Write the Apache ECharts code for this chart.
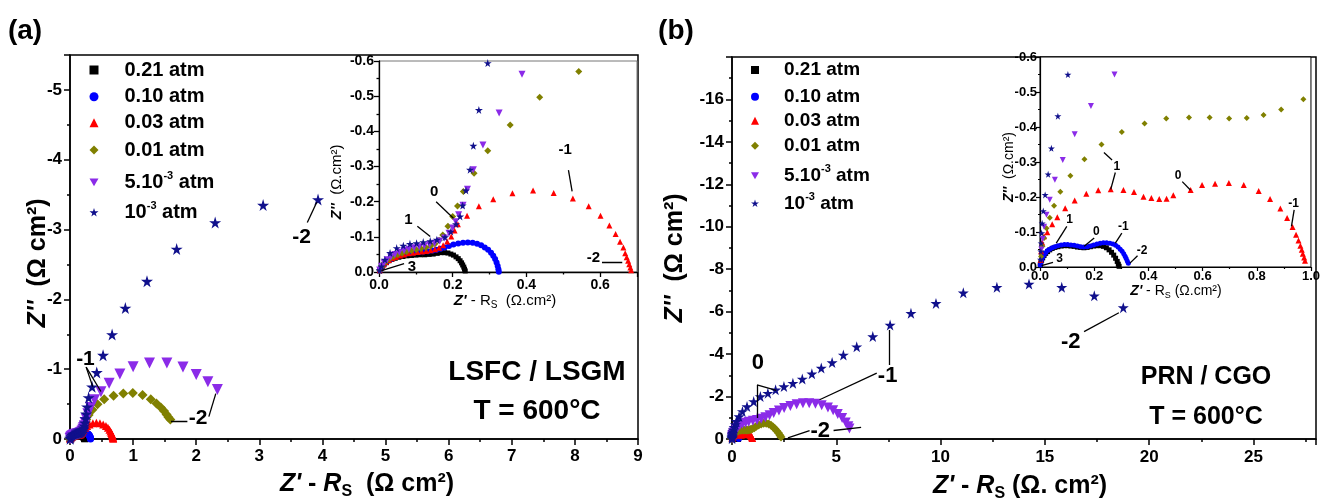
<!DOCTYPE html>
<html><head><meta charset="utf-8">
<script src="https://cdn.jsdelivr.net/npm/echarts@6/dist/echarts.min.js"></script>
<style>html,body{margin:0;padding:0;background:#fff}#c{width:1323px;height:501px}</style>
</head><body><div id="c"></div>
<script>
const FF = '"Liberation Sans", Arial, Helvetica, sans-serif';

// ---------- legend / series categories ----------
const seriesNames  = ['0.21 atm', '0.10 atm', '0.03 atm', '0.01 atm', '5.10^-3 atm', '10^-3 atm'];
const legendLabels = ['0.21 atm', '0.10 atm', '0.03 atm', '0.01 atm', '5.10{sup|-3} atm', '10{sup|-3} atm'];
const seriesColors = ['#000000', '#0000ff', '#ff0000', '#808000', '#8b2be8', '#10108c'];

// ---------- data: [Z' - Rs, -Z''] (Ω cm²) ; y shown on axis with a minus sign ----------
// (a) LSFC / LSGM
const a021 = [[0.002,0.004],[0.005,0.010],[0.009,0.016],[0.014,0.022],[0.020,0.027],[0.027,0.032],[0.035,0.036],[0.044,0.039],[0.054,0.042],[0.065,0.044],[0.076,0.046],[0.088,0.047],[0.100,0.048],[0.112,0.049],[0.124,0.049],[0.136,0.050],[0.147,0.051],[0.158,0.053],[0.168,0.055],[0.178,0.055],[0.187,0.054],[0.195,0.051],[0.202,0.048],[0.209,0.043],[0.215,0.038],[0.220,0.032],[0.224,0.026],[0.227,0.020],[0.230,0.014],[0.232,0.008],[0.234,0.003]];
const a010 = [[0.002,0.005],[0.006,0.012],[0.011,0.019],[0.017,0.026],[0.024,0.032],[0.032,0.037],[0.041,0.042],[0.051,0.046],[0.062,0.049],[0.073,0.052],[0.085,0.054],[0.097,0.056],[0.109,0.057],[0.121,0.058],[0.133,0.059],[0.145,0.061],[0.156,0.063],[0.167,0.066],[0.178,0.070],[0.190,0.074],[0.202,0.078],[0.215,0.081],[0.228,0.083],[0.241,0.084],[0.254,0.083],[0.266,0.080],[0.277,0.076],[0.287,0.070],[0.296,0.063],[0.304,0.055],[0.310,0.046],[0.315,0.037],[0.319,0.027],[0.322,0.017],[0.324,0.008],[0.325,0.001]];
const a003 = [[0.002,0.005],[0.006,0.013],[0.012,0.021],[0.019,0.028],[0.027,0.034],[0.036,0.039],[0.046,0.043],[0.057,0.047],[0.068,0.050],[0.080,0.053],[0.092,0.055],[0.104,0.057],[0.116,0.058],[0.128,0.060],[0.140,0.062],[0.152,0.065],[0.163,0.069],[0.174,0.076],[0.185,0.087],[0.196,0.101],[0.205,0.118],[0.214,0.136],[0.239,0.160],[0.271,0.187],[0.310,0.207],[0.362,0.224],[0.418,0.232],[0.474,0.225],[0.526,0.209],[0.569,0.187],[0.601,0.160],[0.625,0.132],[0.642,0.108],[0.654,0.086],[0.663,0.070],[0.668,0.053],[0.672,0.042],[0.676,0.032],[0.679,0.022],[0.682,0.013],[0.684,0.005]];
const a001 = [[0.002,0.006],[0.007,0.015],[0.013,0.024],[0.021,0.032],[0.030,0.039],[0.040,0.045],[0.051,0.050],[0.063,0.054],[0.075,0.058],[0.088,0.061],[0.101,0.064],[0.114,0.067],[0.127,0.070],[0.140,0.074],[0.152,0.080],[0.163,0.090],[0.173,0.105],[0.187,0.130],[0.200,0.158],[0.213,0.188],[0.229,0.229],[0.258,0.281],[0.295,0.345],[0.356,0.418],[0.436,0.497],[0.542,0.570],[0.69,0.62],[0.845,0.65],[0.995,0.66],[1.15,0.63],[1.28,0.57],[1.37,0.51],[1.44,0.45],[1.49,0.40],[1.53,0.35],[1.56,0.31],[1.59,0.28]];
const a5e3 = [[0.002,0.006],[0.007,0.016],[0.014,0.026],[0.022,0.035],[0.032,0.043],[0.043,0.050],[0.055,0.056],[0.068,0.061],[0.081,0.065],[0.095,0.069],[0.109,0.072],[0.123,0.075],[0.137,0.078],[0.151,0.082],[0.165,0.088],[0.178,0.097],[0.190,0.110],[0.200,0.125],[0.208,0.143],[0.216,0.163],[0.228,0.190],[0.240,0.235],[0.256,0.291],[0.282,0.361],[0.326,0.452],[0.388,0.562],[0.49,0.675],[0.62,0.80],[0.79,0.93],[1.0,1.035],[1.26,1.09],[1.535,1.09],[1.79,1.03],[2.0,0.925],[2.185,0.82],[2.335,0.71]];
const a1e3 = [[0.002,0.005],[0.007,0.016],[0.016,0.035],[0.030,0.054],[0.048,0.068],[0.066,0.075],[0.084,0.080],[0.102,0.082],[0.120,0.085],[0.139,0.088],[0.157,0.092],[0.179,0.099],[0.195,0.115],[0.209,0.136],[0.220,0.158],[0.227,0.189],[0.236,0.232],[0.247,0.291],[0.256,0.359],[0.271,0.461],[0.295,0.594],[0.35,0.747],[0.424,0.953],[0.524,1.20],[0.667,1.496],[0.877,1.876],[1.22,2.26],[1.69,2.72],[2.30,3.10],[3.06,3.35],[3.93,3.43]];

// (b) PRN / CGO
const b021 = [[0.001,0.005],[0.003,0.012],[0.006,0.019],[0.010,0.026],[0.015,0.033],[0.021,0.039],[0.028,0.044],[0.036,0.049],[0.045,0.053],[0.055,0.056],[0.066,0.058],[0.078,0.060],[0.090,0.061],[0.102,0.061],[0.114,0.060],[0.126,0.059],[0.138,0.057],[0.150,0.056],[0.162,0.055],[0.174,0.056],[0.186,0.058],[0.198,0.060],[0.210,0.061],[0.222,0.061],[0.234,0.059],[0.245,0.055],[0.255,0.049],[0.264,0.042],[0.272,0.034],[0.279,0.025],[0.285,0.016],[0.289,0.008],[0.292,0.002]];
const b010 = [[0.001,0.006],[0.003,0.013],[0.006,0.021],[0.010,0.028],[0.015,0.035],[0.021,0.041],[0.028,0.047],[0.036,0.051],[0.045,0.055],[0.055,0.058],[0.066,0.061],[0.078,0.063],[0.090,0.064],[0.102,0.064],[0.114,0.063],[0.126,0.062],[0.138,0.060],[0.150,0.058],[0.162,0.057],[0.174,0.058],[0.186,0.060],[0.198,0.063],[0.210,0.066],[0.222,0.068],[0.234,0.069],[0.246,0.069],[0.258,0.068],[0.269,0.066],[0.279,0.062],[0.288,0.057],[0.296,0.051],[0.303,0.045],[0.309,0.038],[0.314,0.031],[0.318,0.024],[0.322,0.017],[0.326,0.011]];
const b003 = [[0.002,0.020],[0.004,0.045],[0.008,0.070],[0.015,0.088],[0.027,0.099],[0.045,0.122],[0.064,0.142],[0.093,0.168],[0.128,0.190],[0.171,0.209],[0.215,0.219],[0.261,0.222],[0.308,0.220],[0.347,0.214],[0.382,0.201],[0.411,0.197],[0.440,0.194],[0.467,0.195],[0.492,0.205],[0.556,0.220],[0.598,0.234],[0.646,0.238],[0.697,0.240],[0.752,0.234],[0.807,0.217],[0.849,0.194],[0.887,0.167],[0.912,0.140],[0.932,0.114],[0.945,0.092],[0.954,0.076],[0.961,0.061],[0.966,0.049],[0.970,0.038],[0.975,0.027],[0.978,0.018]];
const b001 = [[0.004,0.030],[0.009,0.059],[0.015,0.083],[0.024,0.111],[0.036,0.141],[0.052,0.175],[0.075,0.215],[0.112,0.261],[0.164,0.308],[0.227,0.350],[0.302,0.386],[0.386,0.410],[0.466,0.424],[0.550,0.427],[0.626,0.427],[0.698,0.424],[0.763,0.426],[0.825,0.434],[0.890,0.450],[0.972,0.479],[1.07,0.53],[1.17,0.60],[1.28,0.66],[1.40,0.71],[1.52,0.74],[1.64,0.74],[1.76,0.71],[1.87,0.65],[1.97,0.57],[2.06,0.48],[2.15,0.38],[2.23,0.28],[2.30,0.18],[2.35,0.10]];
const b5e3 = [[0.005,0.05],[0.010,0.08],[0.015,0.115],[0.024,0.149],[0.036,0.192],[0.055,0.249],[0.084,0.306],[0.128,0.379],[0.188,0.46],[0.275,0.55],[0.38,0.66],[0.50,0.72],[0.65,0.77],[0.80,0.81],[1.0,0.86],[1.2,0.90],[1.4,0.96],[1.6,1.03],[1.8,1.12],[2.0,1.22],[2.25,1.34],[2.5,1.46],[2.8,1.56],[3.1,1.64],[3.4,1.69],[3.7,1.69],[4.0,1.66],[4.3,1.59],[4.6,1.49],[4.85,1.35],[5.07,1.18],[5.28,0.99],[5.45,0.78],[5.58,0.60],[5.63,0.50]];
const b1e3 = [[0.002,0.021],[0.003,0.045],[0.004,0.068],[0.006,0.097],[0.008,0.125],[0.012,0.160],[0.019,0.206],[0.030,0.265],[0.042,0.339],[0.066,0.431],[0.103,0.55],[0.16,0.68],[0.21,0.83],[0.34,1.06],[0.50,1.30],[0.72,1.53],[1.04,1.77],[1.36,2.00],[1.72,2.16],[2.09,2.32],[2.49,2.47],[2.92,2.63],[3.37,2.83],[3.83,3.07],[4.28,3.34],[4.80,3.60],[5.34,3.96],[5.98,4.35],[6.75,4.83],[7.58,5.37],[8.58,5.92],[9.78,6.39],[11.09,6.89],[12.70,7.15],[14.24,7.30],[15.81,7.15],[17.37,6.75],[18.76,6.19]];

// ---------- frequency annotations (log f), in data coordinates ----------
const aMainNotes = [[3.67,2.89,'-2'],[0.245,1.15,'-1'],[2.03,0.30,'-2']];
const aMainLeaders = [[[3.76,3.10],[3.91,3.39]],[[0.256,1.03],[0.36,0.75]],[[0.256,1.03],[0.49,0.68]],[[1.60,0.25],[1.86,0.25]],[[2.20,0.32],[2.31,0.65]]];
const aInsetNotes = [[0.505,0.347,'-1'],[0.582,0.040,'-2'],[0.150,0.229,'0'],[0.080,0.149,'1'],[0.089,0.016,'3']];
const aInsetLeaders = [[[0.514,0.29],[0.524,0.229]],[[0.605,0.027],[0.66,0.027]],[[0.155,0.20],[0.202,0.153]],[[0.104,0.13],[0.139,0.101]],[[0.068,0.024],[0.007,0.004]]];
const bMainNotes = [[1.24,3.57,'0'],[7.46,2.99,'-1'],[4.23,0.36,'-2'],[16.24,4.59,'-2']];
const bMainLeaders = [[[1.20,2.55],[1.20,0.99]],[[1.20,2.55],[2.12,2.29]],[[7.55,5.14],[7.55,3.49]],[[6.94,3.10],[4.20,1.85]],[[2.68,0.05],[3.72,0.39]],[[4.87,0.40],[6.19,0.55]],[[16.88,5.06],[18.55,5.95]]];
const bInsetNotes = [[0.284,0.287,'1'],[0.51,0.26,'0'],[0.936,0.182,'-1'],[0.109,0.135,'1'],[0.208,0.101,'0'],[0.308,0.116,'-1'],[0.377,0.047,'-2'],[0.072,0.023,'3']];
const bInsetLeaders = [[[0.266,0.306],[0.236,0.327]],[[0.278,0.27],[0.261,0.222]],[[0.525,0.244],[0.555,0.22]],[[0.938,0.163],[0.928,0.116]],[[0.099,0.116],[0.060,0.068]],[[0.200,0.083],[0.163,0.059]],[[0.302,0.097],[0.278,0.068]],[[0.36,0.032],[0.332,0.011]],[[0.048,0.013],[0.006,0.004]]];

// ---------- styling ----------
const INV_TRI = 'path://M0,0L100,0L50,87Z';
const STAR = 'path://M50,0L61,35L98,35L68,57L79,91L50,70L21,91L32,57L2,35L39,35Z';
const seriesSymbols = ['rect','circle','triangle','diamond',INV_TRI,STAR];

const panels = [
  {axis:0, data:[a021,a010,a003,a001,a5e3,a1e3], sizes:[7,7,8,10,11,12], notes:aMainNotes, leaders:aMainLeaders, nfs:21},
  {axis:1, data:[a021,a010,a003,a001,a5e3,a1e3], sizes:[5,6,6,7,7,8], notes:aInsetNotes, leaders:aInsetLeaders, nfs:15},
  {axis:2, data:[b021,b010,b003,b001,b5e3,b1e3], sizes:[6,6,7,9,10,11], notes:bMainNotes, leaders:bMainLeaders, nfs:22},
  {axis:3, data:[b021,b010,b003,b001,b5e3,b1e3], sizes:[5,5,6,6,6,7], notes:bInsetNotes, leaders:bInsetLeaders, nfs:12}
];

const neg0 = v => (v === 0 ? '0' : '-' + v);
const neg1 = v => (v === 0 ? '0.0' : '-' + v.toFixed(1));

function valAxis(o) {
  const lw = o.lw || 1.5, tl = o.tl || 6;
  return {
    type:'value', gridIndex:o.grid, min:o.min, max:o.max, interval:o.interval,
    axisLine:{show:true, onZero:false, lineStyle:{color:'#000', width:lw}},
    axisTick:{show:true, inside:false, length:tl, lineStyle:{color:'#000', width:lw}},
    minorTick:{show:true, splitNumber:2, length:tl/2, lineStyle:{color:'#000', width:lw}},
    splitLine:{show:false}, minorSplitLine:{show:false},
    axisLabel:{show:true, color:'#000', fontFamily:FF, fontWeight:'bold', fontSize:o.fs, margin:o.margin,
               formatter:o.fmt, showMaxLabel:o.showMax, showMinLabel:true}
  };
}

const xAxis = [
  valAxis({grid:0, min:0, max:9,   interval:1,   fs:17, margin:9, fmt:v=>String(v), showMax:true}),
  valAxis({grid:1, min:0, max:0.7, interval:0.2, fs:14, margin:6, fmt:v=>v.toFixed(1), showMax:false, tl:5, lw:1.3}),
  valAxis({grid:2, min:0, max:28,  interval:5,   fs:17, margin:10, fmt:v=>String(v), showMax:false}),
  valAxis({grid:3, min:0, max:1.0, interval:0.2, fs:13, margin:3, fmt:v=>v.toFixed(1), showMax:true, tl:4, lw:1.2})
];
const yAxis = [
  valAxis({grid:0, min:0, max:5.5, interval:1,   fs:17, margin:8, fmt:neg0, showMax:false}),
  valAxis({grid:1, min:0, max:0.6, interval:0.1, fs:14, margin:5, fmt:neg1, showMax:true, tl:5, lw:1.3}),
  valAxis({grid:2, min:0, max:18,  interval:2,   fs:17, margin:8, fmt:neg0, showMax:false}),
  valAxis({grid:3, min:0, max:0.6, interval:0.1, fs:13, margin:3, fmt:neg1, showMax:true, tl:4, lw:1.2})
];

const grid = [
  {left:70,  top:55, width:568, height:384, show:true, borderColor:'#000', borderWidth:1.5, backgroundColor:'transparent'},
  {left:379, top:61, width:258, height:211, show:true, borderColor:'#777', borderWidth:1, backgroundColor:'#fff'},
  {left:732, top:57, width:584, height:382, show:true, borderColor:'#000', borderWidth:1.5, backgroundColor:'transparent'},
  {left:1040,top:57, width:276, height:210, show:true, borderColor:'#000', borderWidth:1, backgroundColor:'#fff'}
];

const series = [];
panels.forEach(p => {
  p.data.forEach((d, i) => {
    series.push({
      type:'scatter', name:seriesNames[i], xAxisIndex:p.axis, yAxisIndex:p.axis,
      data:d, symbol:seriesSymbols[i], symbolSize:p.sizes[i], clip:true,
      itemStyle:{color:seriesColors[i], opacity:1}, silent:true, z:2 + i * 0.01
    });
  });
  series.push({
    type:'lines', coordinateSystem:'cartesian2d', xAxisIndex:p.axis, yAxisIndex:p.axis,
    data:p.leaders.map(c => ({coords:c})), silent:true, z:4,
    lineStyle:{color:'#000', width:1.3, opacity:1, type:'solid'}
  });
});

// legends: one per row so each row sits exactly
const legendA = {x:94, rows:[70,96.7,122.7,150,182.3,212.3], fs:20, icon:9, pad:21};
const legendB = {x:755, rows:[70,96.7,120.7,145.7,175.7,203.3], fs:19, icon:8, pad:20};
const legend = [];
[legendA, legendB].forEach(L => {
  seriesNames.forEach((nm, i) => {
    legend.push({
      left:L.x - L.icon / 2, top:L.rows[i] - 12, orient:'vertical', padding:0, selectedMode:false,
      itemWidth:L.icon, itemHeight:L.icon, itemGap:0,
      data:[{name:nm, icon:seriesSymbols[i], itemStyle:{color:seriesColors[i]}}],
      formatter:() => legendLabels[i],
      textStyle:{color:'#000', fontFamily:FF, fontWeight:'bold', fontSize:L.fs, lineHeight:24, padding:[0,0,0,L.pad],
        rich:{sup:{color:'#000', fontFamily:FF, fontWeight:'bold', fontSize:11, lineHeight:11, verticalAlign:'top'}}}
    });
  });
});

function tok(size, weight, style, extra) {
  return Object.assign({fontFamily:FF, fontSize:size, fontWeight:weight, fontStyle:style, fill:'#000', lineHeight:Math.round(size * 1.25)}, extra || {});
}
function txt(x, y, text, size, rot) {
  return {type:'text', x:x, y:y, rotation:rot || 0, silent:true, z:20,
    style:{text:text, fill:'#000', fontFamily:FF, fontSize:size, fontWeight:'bold', align:'center', verticalAlign:'middle'}};
}
function richTxt(x, y, text, rich, rot) {
  return {type:'text', x:x, y:y, rotation:rot || 0, silent:true, z:20,
    style:{text:text, fill:'#000', fontFamily:FF, fontSize:rich.n.fontSize, fontWeight:'bold', align:'center', verticalAlign:'middle', rich:rich}};
}
const bigRich = {
  zi:tok(25,'bold','italic'), n:tok(25,'bold','normal'),
  sub:tok(16,'bold','normal',{lineHeight:16, verticalAlign:'bottom'})
};
const insARich = {
  zi:tok(15,'bold','italic'), n:tok(15,'normal','normal'),
  sub:tok(10,'normal','normal',{lineHeight:10, verticalAlign:'bottom'})
};
const insBRich = {
  zi:tok(14,'bold','italic'), n:tok(14,'normal','normal'),
  sub:tok(9,'normal','normal',{lineHeight:9, verticalAlign:'bottom'})
};

const graphic = [
  txt(25, 31, '(a)', 28), txt(676, 31, '(b)', 28),
  txt(537, 372, 'LSFC / LSGM', 28), txt(537, 411, 'T = 600°C', 28),
  txt(1206, 377, 'PRN / CGO', 25), txt(1206, 417, 'T = 600°C', 25),
  richTxt(38, 263, "{zi|Z''} {n| (Ω cm²)}", bigRich, Math.PI / 2),
  richTxt(367, 484, "{zi|Z'}{n| - }{zi|R}{sub|S}{n|  (Ω cm²)}", bigRich),
  richTxt(675, 258, "{zi|Z''} {n| (Ω cm²)}", bigRich, Math.PI / 2),
  richTxt(1020, 486, "{zi|Z'}{n| - }{zi|R}{sub|S}{n| (Ω. cm²)}", bigRich),
  richTxt(337, 182, "{zi|Z''}{n|  (Ω.cm²)}", insARich, Math.PI / 2),
  richTxt(505, 301, "{zi|Z'}{n| - R}{sub|S}{n|  (Ω.cm²)}", insARich),
  richTxt(1009, 167, "{zi|Z''}{n|  (Ω.cm²)}", insBRich, Math.PI / 2),
  richTxt(1176, 291, "{zi|Z'}{n| - R}{sub|S}{n| (Ω.cm²)}", insBRich)
];

const chart = echarts.init(document.getElementById('c'), null, {renderer:'canvas'});
chart.setOption({
  animation:false, backgroundColor:'#fff',
  textStyle:{fontFamily:FF},
  grid:grid, xAxis:xAxis, yAxis:yAxis, legend:legend, series:series, graphic:graphic
});

// frequency labels placed through the axes' own scales
const noteGraphics = [];
panels.forEach(p => {
  p.notes.forEach(n => {
    const pt = chart.convertToPixel({xAxisIndex:p.axis, yAxisIndex:p.axis}, [n[0], n[1]]);
    noteGraphics.push(txt(pt[0], pt[1], n[2], p.nfs));
  });
});
chart.setOption({graphic:graphic.concat(noteGraphics)});
</script></body></html>
